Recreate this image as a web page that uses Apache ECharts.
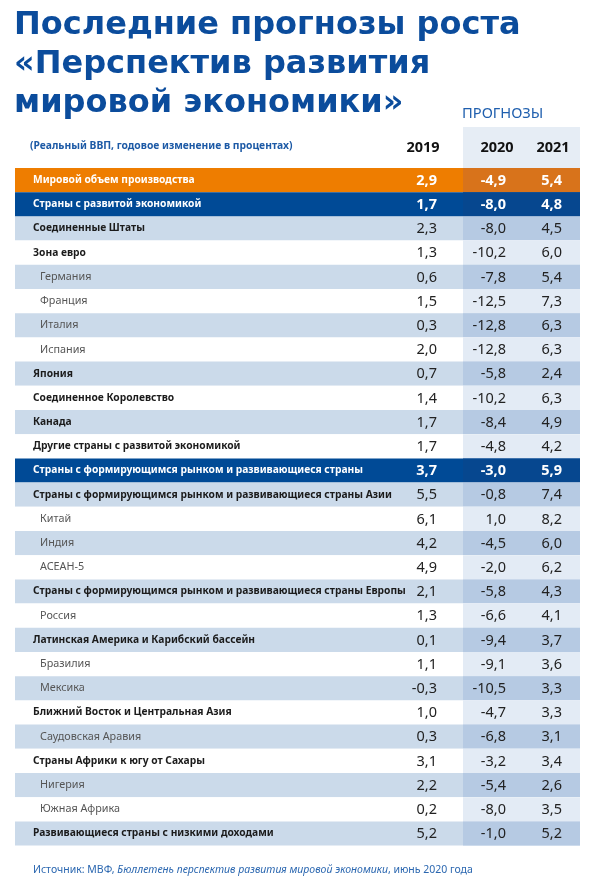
<!DOCTYPE html>
<html>
<head>
<meta charset="utf-8">
<script src="https://cdn.jsdelivr.net/npm/echarts@6/dist/echarts.min.js"></script>
<style>
html,body{margin:0;padding:0;background:#fff;}
#c{width:590px;height:885px;}
</style>
</head>
<body>
<div id="c"></div>
<script>
// ---- data ----
const titleLines = ['Последние прогнозы роста', '«Перспектив развития', 'мировой экономики»'];
const subtitle = '(Реальный ВВП, годовое изменение в процентах)';
const forecastLabel = 'ПРОГНОЗЫ';
const years = ['2019', '2020', '2021'];
const rows = [
  'Мировой объем производства',
  'Страны с развитой экономикой',
  'Соединенные Штаты',
  'Зона евро',
  'Германия',
  'Франция',
  'Италия',
  'Испания',
  'Япония',
  'Соединенное Королевство',
  'Канада',
  'Другие страны с развитой экономикой',
  'Страны с формирующимся рынком и развивающиеся страны',
  'Страны с формирующимся рынком и развивающиеся страны Азии',
  'Китай',
  'Индия',
  'АСЕАН-5',
  'Страны с формирующимся рынком и развивающиеся страны Европы',
  'Россия',
  'Латинская Америка и Карибский бассейн',
  'Бразилия',
  'Мексика',
  'Ближний Восток и Центральная Азия',
  'Саудовская Аравия',
  'Страны Африки к югу от Сахары',
  'Нигерия',
  'Южная Африка',
  'Развивающиеся страны с низкими доходами'
];
// row kind: w = world total, g = group total, m = main entry, s = sub entry
const rowKind = ['w','g','m','m','s','s','s','s','m','m','m','m','g','m','s','s','s','m','s','m','s','s','m','s','m','s','s','m'];
const v2019 = [2.9, 1.7, 2.3, 1.3, 0.6, 1.5, 0.3, 2.0, 0.7, 1.4, 1.7, 1.7, 3.7, 5.5, 6.1, 4.2, 4.9, 2.1, 1.3, 0.1, 1.1, -0.3, 1.0, 0.3, 3.1, 2.2, 0.2, 5.2];
const v2020 = [-4.9, -8.0, -8.0, -10.2, -7.8, -12.5, -12.8, -12.8, -5.8, -10.2, -8.4, -4.8, -3.0, -0.8, 1.0, -4.5, -2.0, -5.8, -6.6, -9.4, -9.1, -10.5, -4.7, -6.8, -3.2, -5.4, -8.0, -1.0];
const v2021 = [5.4, 4.8, 4.5, 6.0, 5.4, 7.3, 6.3, 6.3, 2.4, 6.3, 4.9, 4.2, 5.9, 7.4, 8.2, 6.0, 6.2, 4.3, 4.1, 3.7, 3.6, 3.3, 3.3, 3.1, 3.4, 2.6, 3.5, 5.2];
const sourceParts = ['Источник: МВФ, ', 'Бюллетень перспектив развития мировой экономики', ', июнь 2020 года'];

// ---- layout (pixel units of the x axis) ----
const gridLeft = 15, gridTop = 168, gridWidth = 565, rowH = 24.2;
const forecastStart = 448;          // x where forecast shading starts
const valueRight = [422, 491, 547]; // right edges of the three value columns
const yearCenter = [408, 482, 538];

const FONT = '"Noto Sans", "Open Sans", sans-serif';
const TFONT = '"DejaVu Sans", "Noto Sans", sans-serif';
const C = {
  blue: '#0b4c9c', orange: '#ee7d00', orangeF: '#d8731b', navy: '#004a96', navyF: '#06478f',
  light: '#cbdaea', lightF: '#b6cae3', white: '#ffffff', whiteF: '#e3ebf5', head: '#e6edf5'
};

// stripe index restarts after each group row
const stripe = [];
let k = 0;
rowKind.forEach((kd, i) => {
  if (kd === 'w' || kd === 'g') { k = 0; stripe.push(-1); }
  else { k++; stripe.push(k % 2); }
});

function fmt(v) { return v.toFixed(1).replace('.', ','); }

function renderRow(params, api) {
  const i = api.value(0);
  const cs = params.coordSys;
  const h = api.size([0, 1])[1];
  const yc = api.coord([0, i])[1];
  const top = yc - h / 2;
  const xf = api.coord([forecastStart, i])[0];
  const kd = rowKind[i];
  let base, fc, tc, bold;
  if (kd === 'w') { base = C.orange; fc = C.orangeF; tc = '#fff'; bold = true; }
  else if (kd === 'g') { base = C.navy; fc = C.navyF; tc = '#fff'; bold = true; }
  else if (stripe[i] === 1) { base = C.light; fc = C.lightF; tc = '#222'; bold = false; }
  else { base = C.white; fc = C.whiteF; tc = '#222'; bold = false; }
  const children = [
    { type: 'rect', shape: { x: cs.x, y: top, width: cs.width, height: h }, style: { fill: base } },
    { type: 'rect', shape: { x: xf, y: top, width: cs.x + cs.width - xf, height: h }, style: { fill: fc } }
  ];
  [api.value(1), api.value(2), api.value(3)].forEach((v, j) => {
    const p = api.coord([valueRight[j], i]);
    children.push({
      type: 'text',
      style: {
        text: fmt(v), x: p[0], y: p[1] + 0.5, align: 'right', verticalAlign: 'middle',
        fill: tc, font: (bold ? 'bold ' : '') + '14.5px ' + FONT
      }
    });
  });
  return { type: 'group', children };
}

const chart = echarts.init(document.getElementById('c'), null, { renderer: 'canvas' });

const graphics = [];
titleLines.forEach((t, i) => {
  graphics.push({
    type: 'text', left: 14, top: 10 + i * 39,
    style: { text: t, fill: C.blue, font: 'bold 32px ' + TFONT }
  });
});
graphics.push({ type: 'text', left: 462, top: 106, style: { text: forecastLabel, fill: '#1f5fae', font: '14.7px ' + FONT } });
graphics.push({ type: 'rect', left: gridLeft + forecastStart, top: 127, shape: { width: gridWidth - forecastStart, height: gridTop - 127 }, style: { fill: C.head }, z: -1 });
graphics.push({ type: 'text', left: 30, top: 141, style: { text: subtitle, fill: '#1d5aa6', font: 'bold 10.3px ' + FONT } });
years.forEach((y, j) => {
  graphics.push({
    type: 'text', x: gridLeft + yearCenter[j], y: 148,
    style: { text: y, fill: '#111', font: 'bold 14.5px ' + FONT, align: 'center', verticalAlign: 'middle' }
  });
});
graphics.push({
  type: 'text', left: 33, top: 865,
  style: {
    text: '{n|' + sourceParts[0] + '}{i|' + sourceParts[1] + '}{n|' + sourceParts[2] + '}',
    rich: {
      n: { fill: '#2b67b0', fontSize: 10.5, fontFamily: FONT },
      i: { fill: '#2b67b0', fontSize: 10.5, fontFamily: FONT, fontStyle: 'italic' }
    }
  }
});

chart.setOption({
  animation: false,
  backgroundColor: '#ffffff',
  grid: { left: gridLeft, top: gridTop, width: gridWidth, height: rowH * rows.length, containLabel: false },
  xAxis: { type: 'value', min: 0, max: gridWidth, show: false },
  yAxis: {
    type: 'category', data: rows, inverse: true, z: 10,
    axisLine: { show: false }, axisTick: { show: false }, splitLine: { show: false },
    axisLabel: {
      inside: true, margin: 18, interval: 0,
      formatter: (val, idx) => {
        const kd = rowKind[idx];
        if (kd === 'w' || kd === 'g') return '{w|' + val + '}';
        if (kd === 'm') return '{b|' + val + '}';
        return '{s|' + val + '}';
      },
      rich: {
        w: { color: '#fff', fontWeight: 'bold', fontSize: 10.25, fontFamily: FONT },
        b: { color: '#1b1b1b', fontWeight: 'bold', fontSize: 10.25, fontFamily: FONT },
        s: { color: '#555', fontSize: 10.8, fontFamily: FONT, padding: [0, 0, 0, 7] }
      }
    }
  },
  series: [{
    type: 'custom',
    renderItem: renderRow,
    encode: { y: 0, x: 1 },
    data: rows.map((r, i) => [i, v2019[i], v2020[i], v2021[i]]),
    z: 2,
    silent: true
  }],
  graphic: graphics
});
</script>
</body>
</html>
